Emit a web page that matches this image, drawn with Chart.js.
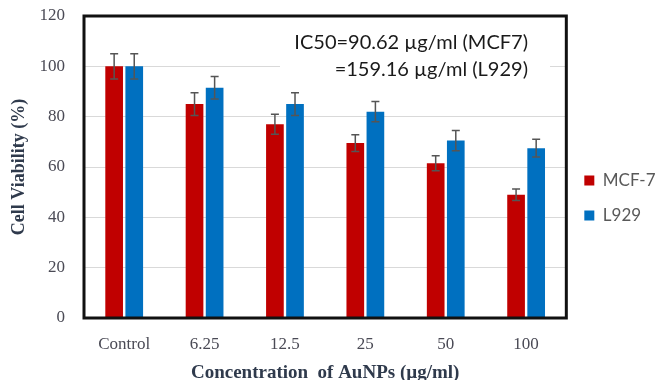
<!DOCTYPE html>
<html>
<head>
    <meta charset="utf-8" />
    <title>Cell Viability</title>
    <script src="https://cdn.jsdelivr.net/npm/chart.js"></script>
    <style>
        body {
            margin: 0;
            background: #fff;
        }
        #wrap {
            width: 657px;
            height: 380px;
        }
    </style>
</head>
<body>
<div id="wrap"><canvas id="chart" width="657" height="380"></canvas></div>

<script>
    const concentrations = ['Control', '6.25', '12.5', '25', '50', '100'];
    const mcf7Values = [100, 85, 77, 69.5, 61.5, 49];
    const mcf7Errors = [5, 4.5, 4, 3.3, 3, 2.3];
    const l929Values = [100, 91.5, 85, 82, 70.5, 67.5];
    const l929Errors = [5, 4.5, 4.5, 4, 4, 3.5];
    const ic50Lines = ['IC50=90.62 \u00b5g/ml (MCF7)', '=159.16 \u00b5g/ml (L929)'];

    const tickColor = '#4a4a55';
    const titleColor = '#2f3a4c';

    // white box + IC50 text, drawn over the grid but under the bars
    const noteBox = {
        id: 'noteBox',
        beforeDatasetsDraw(chart) {
            const c = chart.ctx;
            const y = chart.scales.y;
            c.save();
            c.fillStyle = '#fff';
            c.fillRect(280, y.getPixelForValue(112), 270, y.getPixelForValue(90) - y.getPixelForValue(112));
            c.fillStyle = '#1a1a1a';
            c.font = '20px Lato, sans-serif';
            c.textAlign = 'right';
            c.textBaseline = 'middle';
            c.fillText(ic50Lines[0], 528, 43);
            c.fillText(ic50Lines[1], 528, 70);
            c.restore();
        }
    };

    // error bars from the arrays above
    const errorBars = {
        id: 'errorBars',
        afterDatasetsDraw(chart) {
            const c = chart.ctx;
            const y = chart.scales.y;
            c.save();
            c.strokeStyle = '#555555';
            c.lineWidth = 1.5;
            chart.data.datasets.forEach((ds, i) => {
                const meta = chart.getDatasetMeta(i);
                meta.data.forEach((bar, j) => {
                    const v = ds.data[j];
                    const e = ds.errors[j];
                    const top = y.getPixelForValue(v + e);
                    const bot = y.getPixelForValue(v - e);
                    c.beginPath();
                    c.moveTo(bar.x, top);
                    c.lineTo(bar.x, bot);
                    c.moveTo(bar.x - 4, top);
                    c.lineTo(bar.x + 4, top);
                    c.moveTo(bar.x - 4, bot);
                    c.lineTo(bar.x + 4, bot);
                    c.stroke();
                });
            });
            c.restore();
        }
    };

    // black frame around the plot area
    const frame = {
        id: 'frame',
        afterDatasetsDraw(chart) {
            const a = chart.chartArea;
            const c = chart.ctx;
            c.save();
            c.strokeStyle = '#111';
            c.lineWidth = 3;
            c.strokeRect(a.left, a.top, a.right - a.left, a.bottom - a.top);
            c.restore();
        }
    };

    const chart = new Chart(document.getElementById('chart').getContext('2d'), {
        type: 'bar',
        data: {
            labels: concentrations,
            datasets: [
                {
                    label: 'MCF-7',
                    data: mcf7Values,
                    errors: mcf7Errors,
                    backgroundColor: '#c00000',
                    categoryPercentage: 0.5,
                    barPercentage: 0.88
                },
                {
                    label: 'L929',
                    data: l929Values,
                    errors: l929Errors,
                    backgroundColor: '#0070c0',
                    categoryPercentage: 0.5,
                    barPercentage: 0.88
                }
            ]
        },
        options: {
            responsive: false,
            animation: false,
            layout: {
                padding: { top: 16, right: -8.5, left: 0, bottom: 0 }
            },
            plugins: {
                legend: {
                    position: 'right',
                    labels: {
                        boxWidth: 10,
                        boxHeight: 10,
                        padding: 18,
                        color: '#595959',
                        font: { family: 'Lato, sans-serif', size: 17 }
                    }
                },
                tooltip: { enabled: false }
            },
            scales: {
                y: {
                    min: 0,
                    max: 120,
                    ticks: {
                        stepSize: 20,
                        padding: 0,
                        color: tickColor,
                        font: { family: '"Liberation Serif", serif', size: 17 }
                    },
                    grid: { color: '#d9d9d9', tickLength: 19, tickColor: 'rgba(0,0,0,0)' },
                    border: { display: false },
                    title: {
                        display: true,
                        text: 'Cell Viability (%)',
                        color: titleColor,
                        padding: { top: 9, bottom: 0 },
                        font: { family: '"Liberation Serif", serif', size: 18, weight: 'bold' }
                    },
                    afterFit(scale) { scale.width = 84; }
                },
                x: {
                    ticks: {
                        padding: 16,
                        color: tickColor,
                        font: { family: '"Liberation Serif", serif', size: 17 }
                    },
                    grid: { display: false, drawTicks: false },
                    border: { display: false },
                    title: {
                        display: true,
                        text: 'Concentration  of AuNPs (\u00b5g/ml)',
                        color: titleColor,
                        padding: { top: 0, bottom: -4 },
                        font: { family: '"Liberation Serif", serif', size: 19, weight: 'bold' }
                    },
                    afterFit(scale) { scale.height = 62; }
                }
            }
        },
        plugins: [noteBox, errorBars, frame]
    });
</script>
</body>
</html>
